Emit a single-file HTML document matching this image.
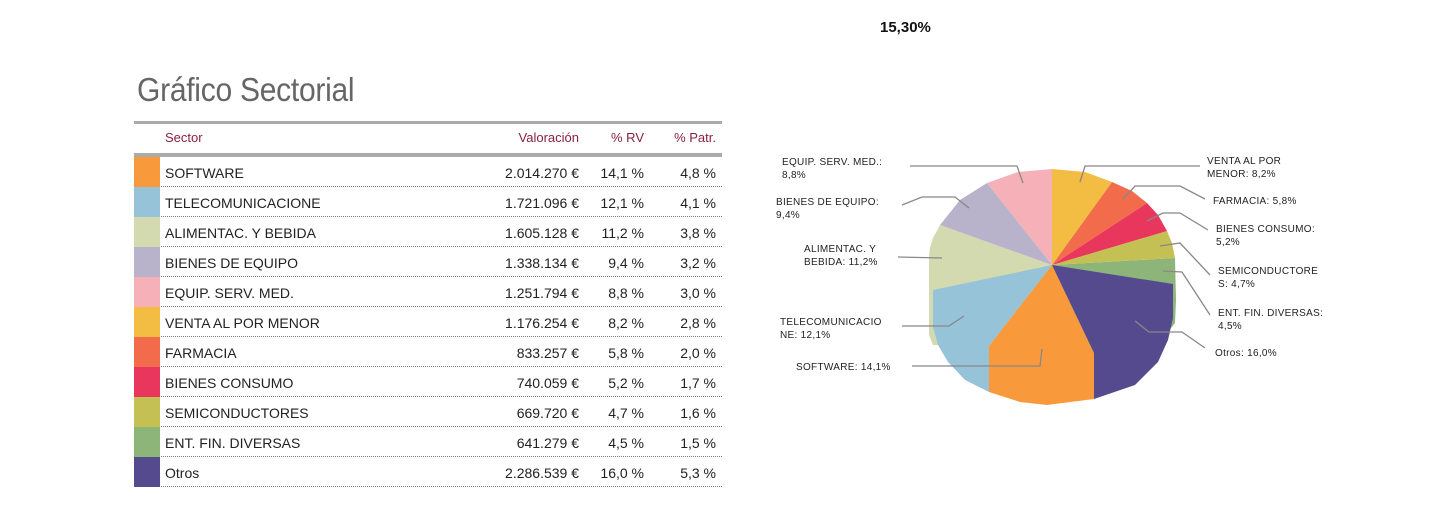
<!DOCTYPE html>
<html><head><meta charset="utf-8"><style>
body{margin:0;width:1440px;height:518px;background:#fff;position:relative;overflow:hidden;font-family:"Liberation Sans",sans-serif;}
.a{position:absolute;white-space:nowrap}
.title{left:137px;top:71px;font-size:33px;color:#666;transform:scaleX(0.91);transform-origin:left top;letter-spacing:-0.3px}
.hdr{font-size:13px;color:#8b2040;top:130px}
.row{position:absolute;left:134px;width:588px;height:29px;border-bottom:1px dotted #777}
.sw{position:absolute;left:0;top:0;width:26px;height:30px}
.row span{position:absolute;top:8px;font-size:14px;color:#222}
.n{left:31px}.v{right:143px}.p{right:78px}.q{right:6px}
</style></head><body>
<div class="a" style="left:880px;top:19px;font-size:15px;font-weight:bold;color:#111">15,30%</div>
<div class="a title">Gráfico Sectorial</div>
<div class="a" style="left:134px;top:121px;width:588px;height:3px;background:#aaa"></div>
<div class="a hdr" style="left:165px">Sector</div>
<div class="a hdr" style="right:861px">Valoración</div>
<div class="a hdr" style="right:796px">% RV</div>
<div class="a hdr" style="right:724px">% Patr.</div>
<div class="a" style="left:134px;top:153px;width:588px;height:4px;background:#aaa"></div>
<div style="position:absolute;top:157px;left:0">
<div class="row" style="top:0"><div class="sw" style="background:#f89a3c"></div><span class="n">SOFTWARE</span><span class="v">2.014.270 €</span><span class="p">14,1 %</span><span class="q">4,8 %</span></div>
<div class="row" style="top:30px"><div class="sw" style="background:#96c3d8"></div><span class="n">TELECOMUNICACIONE</span><span class="v">1.721.096 €</span><span class="p">12,1 %</span><span class="q">4,1 %</span></div>
<div class="row" style="top:60px"><div class="sw" style="background:#d3dab0"></div><span class="n">ALIMENTAC. Y BEBIDA</span><span class="v">1.605.128 €</span><span class="p">11,2 %</span><span class="q">3,8 %</span></div>
<div class="row" style="top:90px"><div class="sw" style="background:#b8b2cb"></div><span class="n">BIENES DE EQUIPO</span><span class="v">1.338.134 €</span><span class="p">9,4 %</span><span class="q">3,2 %</span></div>
<div class="row" style="top:120px"><div class="sw" style="background:#f6b0b7"></div><span class="n">EQUIP. SERV. MED.</span><span class="v">1.251.794 €</span><span class="p">8,8 %</span><span class="q">3,0 %</span></div>
<div class="row" style="top:150px"><div class="sw" style="background:#f2bd42"></div><span class="n">VENTA AL POR MENOR</span><span class="v">1.176.254 €</span><span class="p">8,2 %</span><span class="q">2,8 %</span></div>
<div class="row" style="top:180px"><div class="sw" style="background:#f26b4a"></div><span class="n">FARMACIA</span><span class="v">833.257 €</span><span class="p">5,8 %</span><span class="q">2,0 %</span></div>
<div class="row" style="top:210px"><div class="sw" style="background:#e8365d"></div><span class="n">BIENES CONSUMO</span><span class="v">740.059 €</span><span class="p">5,2 %</span><span class="q">1,7 %</span></div>
<div class="row" style="top:240px"><div class="sw" style="background:#c5c054"></div><span class="n">SEMICONDUCTORES</span><span class="v">669.720 €</span><span class="p">4,7 %</span><span class="q">1,6 %</span></div>
<div class="row" style="top:270px"><div class="sw" style="background:#8db57a"></div><span class="n">ENT. FIN. DIVERSAS</span><span class="v">641.279 €</span><span class="p">4,5 %</span><span class="q">1,5 %</span></div>
<div class="row" style="top:300px"><div class="sw" style="background:#554a8e"></div><span class="n">Otros</span><span class="v">2.286.539 €</span><span class="p">16,0 %</span><span class="q">5,3 %</span></div>
</div>
<svg width="1440" height="518" style="position:absolute;left:0;top:0">
<g stroke="none">
<polygon fill="#d3dab0" points="1052,265 940,225 933,238 930,248 929,257 929,335 933,345 989,346"/>
<polygon fill="#96c3d8" points="1052,265 933,290 933,327 938,345 948,362 965,380 989,392 989,346"/>
<polygon fill="#f89a3c" points="1052,265 989,346 989,392 1020,402 1047,405 1094,399 1094,353"/>
<polygon fill="#8db57a" points="1052,265 1175,258 1176,300 1175,323 1168,332 1094,353"/>
<polygon fill="#554a8e" points="1052,265 1173,284 1173,318 1168,340 1158,362 1135,385 1094,399 1094,353"/>
<polygon fill="#c5c054" points="1052,265 1167,231 1172,243 1175,258"/>
<polygon fill="#e8365d" points="1052,265 1147,203 1158,215 1167,231"/>
<polygon fill="#f26b4a" points="1052,265 1112,182 1132,191 1147,203"/>
<polygon fill="#f2bd42" points="1052,265 1052,169 1085,172 1112,182"/>
<polygon fill="#f6b0b7" points="1052,265 987,183 1018,172 1052,169"/>
<polygon fill="#b8b2cb" points="1052,265 940,225 960,200 987,183"/>
</g>
<g fill="none" stroke="#888" stroke-width="1.3">
<polyline points="910,166 1017,166 1023,183"/>
<polyline points="1200,166 1085,166 1080,182"/>
<polyline points="902,205 922,197 955,197 969,208"/>
<polyline points="898,257 942,258"/>
<polyline points="902,326 949,326 964,316"/>
<polyline points="912,366 1040,366 1042,349"/>
<polyline points="1123,199 1135,186 1180,186 1205,199"/>
<polyline points="1147,221 1163,213 1180,213 1208,230"/>
<polyline points="1160,246 1180,243 1210,275"/>
<polyline points="1163,271 1182,272 1210,315"/>
<polyline points="1135,321 1149,332 1182,332 1205,348"/>
</g>
<g font-family="Liberation Sans, sans-serif" font-size="10" fill="#222" letter-spacing="0.3">
<text x="782" y="165">EQUIP. SERV. MED.:</text><text x="782" y="178">8,8%</text>
<text x="776" y="205">BIENES DE EQUIPO:</text><text x="776" y="218">9,4%</text>
<text x="804" y="252">ALIMENTAC. Y</text><text x="804" y="265">BEBIDA: 11,2%</text>
<text x="780" y="325">TELECOMUNICACIO</text><text x="780" y="338">NE: 12,1%</text>
<text x="796" y="370">SOFTWARE: 14,1%</text>
<text x="1207" y="164">VENTA AL POR</text><text x="1207" y="177">MENOR: 8,2%</text>
<text x="1213" y="204">FARMACIA: 5,8%</text>
<text x="1216" y="232">BIENES CONSUMO:</text><text x="1216" y="245">5,2%</text>
<text x="1218" y="274">SEMICONDUCTORE</text><text x="1218" y="287">S: 4,7%</text>
<text x="1218" y="316">ENT. FIN. DIVERSAS:</text><text x="1218" y="329">4,5%</text>
<text x="1215" y="356">Otros: 16,0%</text>
</g>
</svg>
</body></html>
